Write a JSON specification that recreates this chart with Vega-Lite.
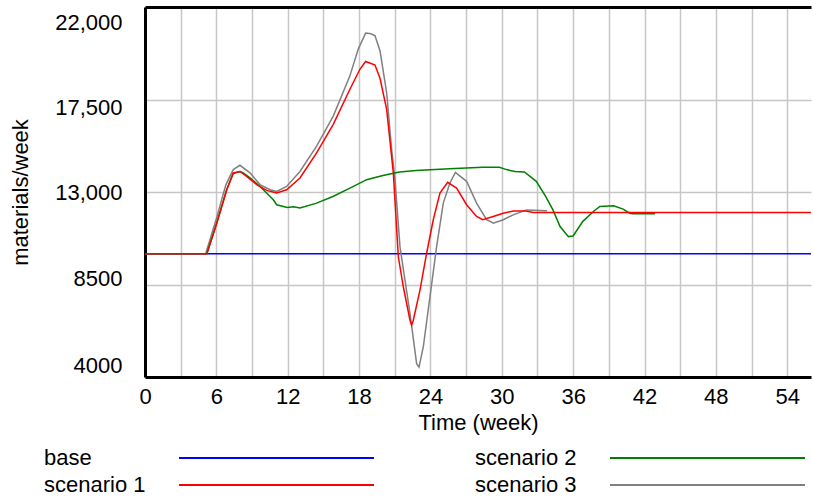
{
  "$schema": "https://vega.github.io/schema/vega-lite/v6.json",
  "width": 666,
  "height": 370,
  "autosize": "none",
  "padding": {"left": 145, "top": 7, "right": 2, "bottom": 121},
  "config": {
    "font": "Liberation Sans",
    "view": {"stroke": null},
    "axis": {"labelColor": "black", "titleColor": "black", "titleFontWeight": "normal", "labelFontSize": 22, "titleFontSize": 22, "labelFont": "Liberation Sans", "titleFont": "Liberation Sans"}
  },
  "data": {
    "values": [
      {"s": "base", "t": 0, "v": 10000},
      {"s": "base", "t": 14, "v": 10000},
      {"s": "base", "t": 28, "v": 10000},
      {"s": "base", "t": 42, "v": 10000},
      {"s": "base", "t": 56, "v": 10000},

      {"s": "scenario 3", "t": 0, "v": 10000},
      {"s": "scenario 3", "t": 5.1, "v": 10000},
      {"s": "scenario 3", "t": 6.0, "v": 11700},
      {"s": "scenario 3", "t": 6.8, "v": 13350},
      {"s": "scenario 3", "t": 7.42, "v": 14090},
      {"s": "scenario 3", "t": 7.98, "v": 14300},
      {"s": "scenario 3", "t": 8.83, "v": 13930},
      {"s": "scenario 3", "t": 9.67, "v": 13360},
      {"s": "scenario 3", "t": 10.51, "v": 13110},
      {"s": "scenario 3", "t": 11.07, "v": 13030},
      {"s": "scenario 3", "t": 11.91, "v": 13270},
      {"s": "scenario 3", "t": 13.03, "v": 14000},
      {"s": "scenario 3", "t": 14.43, "v": 15230},
      {"s": "scenario 3", "t": 15.83, "v": 16690},
      {"s": "scenario 3", "t": 17.23, "v": 18650},
      {"s": "scenario 3", "t": 17.93, "v": 19950},
      {"s": "scenario 3", "t": 18.55, "v": 20730},
      {"s": "scenario 3", "t": 19.0, "v": 20700},
      {"s": "scenario 3", "t": 19.34, "v": 20600},
      {"s": "scenario 3", "t": 19.76, "v": 19870},
      {"s": "scenario 3", "t": 20.32, "v": 17830},
      {"s": "scenario 3", "t": 20.74, "v": 15070},
      {"s": "scenario 3", "t": 21.02, "v": 13600},
      {"s": "scenario 3", "t": 21.44, "v": 10340},
      {"s": "scenario 3", "t": 21.86, "v": 8710},
      {"s": "scenario 3", "t": 22.28, "v": 7090},
      {"s": "scenario 3", "t": 22.84, "v": 4650},
      {"s": "scenario 3", "t": 23.04, "v": 4480},
      {"s": "scenario 3", "t": 23.4, "v": 5460},
      {"s": "scenario 3", "t": 23.96, "v": 7900},
      {"s": "scenario 3", "t": 24.52, "v": 10340},
      {"s": "scenario 3", "t": 25.08, "v": 12460},
      {"s": "scenario 3", "t": 25.64, "v": 13440},
      {"s": "scenario 3", "t": 26.1, "v": 13950},
      {"s": "scenario 3", "t": 27.04, "v": 13520},
      {"s": "scenario 3", "t": 27.88, "v": 12460},
      {"s": "scenario 3", "t": 28.72, "v": 11650},
      {"s": "scenario 3", "t": 29.3, "v": 11480},
      {"s": "scenario 3", "t": 30.12, "v": 11650},
      {"s": "scenario 3", "t": 30.96, "v": 11890},
      {"s": "scenario 3", "t": 32.08, "v": 12130},
      {"s": "scenario 3", "t": 33.2, "v": 12100},
      {"s": "scenario 3", "t": 33.8, "v": 12085},

      {"s": "scenario 2", "t": 0, "v": 10000},
      {"s": "scenario 2", "t": 5.2, "v": 10000},
      {"s": "scenario 2", "t": 6.03, "v": 11480},
      {"s": "scenario 2", "t": 6.87, "v": 13110},
      {"s": "scenario 2", "t": 7.42, "v": 13900},
      {"s": "scenario 2", "t": 7.98, "v": 14000},
      {"s": "scenario 2", "t": 8.26, "v": 13930},
      {"s": "scenario 2", "t": 8.8, "v": 13700},
      {"s": "scenario 2", "t": 9.67, "v": 13270},
      {"s": "scenario 2", "t": 9.95, "v": 13110},
      {"s": "scenario 2", "t": 10.79, "v": 12620},
      {"s": "scenario 2", "t": 11.07, "v": 12380},
      {"s": "scenario 2", "t": 11.96, "v": 12250},
      {"s": "scenario 2", "t": 12.5, "v": 12280},
      {"s": "scenario 2", "t": 13.03, "v": 12220},
      {"s": "scenario 2", "t": 14.43, "v": 12460},
      {"s": "scenario 2", "t": 15.8, "v": 12780},
      {"s": "scenario 2", "t": 17.23, "v": 13190},
      {"s": "scenario 2", "t": 18.64, "v": 13600},
      {"s": "scenario 2", "t": 20.0, "v": 13800},
      {"s": "scenario 2", "t": 21.4, "v": 13975},
      {"s": "scenario 2", "t": 22.8, "v": 14050},
      {"s": "scenario 2", "t": 25.6, "v": 14130},
      {"s": "scenario 2", "t": 28.4, "v": 14200},
      {"s": "scenario 2", "t": 29.8, "v": 14200},
      {"s": "scenario 2", "t": 30.4, "v": 14090},
      {"s": "scenario 2", "t": 31.1, "v": 14000},
      {"s": "scenario 2", "t": 31.9, "v": 13975},
      {"s": "scenario 2", "t": 32.9, "v": 13520},
      {"s": "scenario 2", "t": 33.7, "v": 12780},
      {"s": "scenario 2", "t": 34.3, "v": 12130},
      {"s": "scenario 2", "t": 34.9, "v": 11320},
      {"s": "scenario 2", "t": 35.6, "v": 10830},
      {"s": "scenario 2", "t": 36.0, "v": 10860},
      {"s": "scenario 2", "t": 36.8, "v": 11560},
      {"s": "scenario 2", "t": 37.7, "v": 12050},
      {"s": "scenario 2", "t": 38.25, "v": 12300},
      {"s": "scenario 2", "t": 39.4, "v": 12330},
      {"s": "scenario 2", "t": 40.2, "v": 12170},
      {"s": "scenario 2", "t": 40.75, "v": 11970},
      {"s": "scenario 2", "t": 41.0, "v": 11940},
      {"s": "scenario 2", "t": 42.9, "v": 11940},

      {"s": "scenario 1", "t": 0, "v": 10000},
      {"s": "scenario 1", "t": 5.2, "v": 10000},
      {"s": "scenario 1", "t": 6.03, "v": 11480},
      {"s": "scenario 1", "t": 6.87, "v": 13110},
      {"s": "scenario 1", "t": 7.42, "v": 13930},
      {"s": "scenario 1", "t": 7.98, "v": 14000},
      {"s": "scenario 1", "t": 8.55, "v": 13760},
      {"s": "scenario 1", "t": 9.39, "v": 13360},
      {"s": "scenario 1", "t": 10.23, "v": 13080},
      {"s": "scenario 1", "t": 11.07, "v": 12950},
      {"s": "scenario 1", "t": 11.91, "v": 13110},
      {"s": "scenario 1", "t": 13.03, "v": 13680},
      {"s": "scenario 1", "t": 14.43, "v": 14900},
      {"s": "scenario 1", "t": 15.83, "v": 16290},
      {"s": "scenario 1", "t": 17.23, "v": 18000},
      {"s": "scenario 1", "t": 18.07, "v": 18970},
      {"s": "scenario 1", "t": 18.55, "v": 19350},
      {"s": "scenario 1", "t": 19.0, "v": 19250},
      {"s": "scenario 1", "t": 19.34, "v": 19180},
      {"s": "scenario 1", "t": 19.76, "v": 18530},
      {"s": "scenario 1", "t": 20.32, "v": 17020},
      {"s": "scenario 1", "t": 20.88, "v": 13930},
      {"s": "scenario 1", "t": 21.3, "v": 9850},
      {"s": "scenario 1", "t": 21.72, "v": 8390},
      {"s": "scenario 1", "t": 22.28, "v": 6760},
      {"s": "scenario 1", "t": 22.42, "v": 6520},
      {"s": "scenario 1", "t": 22.56, "v": 6760},
      {"s": "scenario 1", "t": 23.12, "v": 8230},
      {"s": "scenario 1", "t": 23.68, "v": 10020},
      {"s": "scenario 1", "t": 24.24, "v": 11650},
      {"s": "scenario 1", "t": 24.8, "v": 12950},
      {"s": "scenario 1", "t": 25.45, "v": 13470},
      {"s": "scenario 1", "t": 26.2, "v": 13190},
      {"s": "scenario 1", "t": 27.04, "v": 12380},
      {"s": "scenario 1", "t": 27.88, "v": 11810},
      {"s": "scenario 1", "t": 28.4, "v": 11650},
      {"s": "scenario 1", "t": 29.28, "v": 11810},
      {"s": "scenario 1", "t": 30.12, "v": 11970},
      {"s": "scenario 1", "t": 30.96, "v": 12070},
      {"s": "scenario 1", "t": 32.0, "v": 12070},
      {"s": "scenario 1", "t": 32.64, "v": 12000},
      {"s": "scenario 1", "t": 40, "v": 12000},
      {"s": "scenario 1", "t": 48, "v": 12000},
      {"s": "scenario 1", "t": 56, "v": 12000}
    ]
  },
  "layer": [
    {
      "mark": {"type": "line", "strokeWidth": 1.5},
      "encoding": {
        "x": {
          "field": "t", "type": "quantitative",
          "scale": {"domain": [0, 56], "nice": false, "zero": false},
          "axis": {
            "title": "Time (week)",
            "values": [0, 3, 6, 9, 12, 15, 18, 21, 24, 27, 30, 33, 36, 39, 42, 45, 48, 51, 54],
            "labelExpr": "datum.value % 6 == 0 ? datum.label : ''",
            "labelFlush": false,
            "labelOverlap": false,
            "ticks": false,
            "labelPadding": 9,
            "titlePadding": 5,
            "grid": true, "gridColor": "#c6c6c6", "gridWidth": 1.5,
            "domainColor": "black", "domainWidth": 3
          }
        },
        "y": {
          "field": "v", "type": "quantitative",
          "scale": {"domain": [4000, 22000], "nice": false, "zero": false},
          "axis": {
            "title": "materials/week",
            "values": [4000, 8500, 13000, 17500, 22000],
            "labelExpr": "datum.value >= 10000 ? format(datum.value, ',') : format(datum.value, 'd')",
            "labelOffset": {"expr": "datum.value == 22000 ? 15 : datum.value == 17500 ? 8 : datum.value == 8500 ? -6 : datum.value == 4000 ? -12 : 0"},
            "labelBaseline": "middle",
            "labelFlush": false,
            "ticks": false,
            "labelPadding": 23,
            "titlePadding": 22,
            "grid": true, "gridColor": "#c6c6c6", "gridWidth": 1.5,
            "domainColor": "black", "domainWidth": 3
          }
        },
        "color": {
          "field": "s", "type": "nominal",
          "scale": {"domain": ["base", "scenario 2", "scenario 1", "scenario 3"], "range": ["#0000ff", "#008000", "#ff0000", "#808080"]},
          "legend": {
            "orient": "none", "legendX": 33, "legendY": 440,
            "direction": "horizontal", "columns": 2, "title": null,
            "symbolType": "M -9.75 0 L 9.75 0", "symbolSize": 400, "symbolStrokeWidth": 2,
            "symbolOffset": 87.5,
            "labelFontSize": 22, "labelFont": "Liberation Sans", "labelColor": "black",
            "labelOffset": -243.5, "labelLimit": 400,
            "columnPadding": 97, "rowPadding": 5, "padding": 0
          }
        }
      }
    },
    {
      "mark": {"type": "line", "opacity": 0},
      "encoding": {
        "x": {
          "field": "t", "type": "quantitative",
          "axis": {"orient": "top", "labels": false, "ticks": false, "grid": false, "title": null, "domainColor": "black", "domainWidth": 3}
        },
        "y": {"field": "v", "type": "quantitative"}
      }
    }
  ],
  "resolve": {"axis": {"x": "independent"}}
}
